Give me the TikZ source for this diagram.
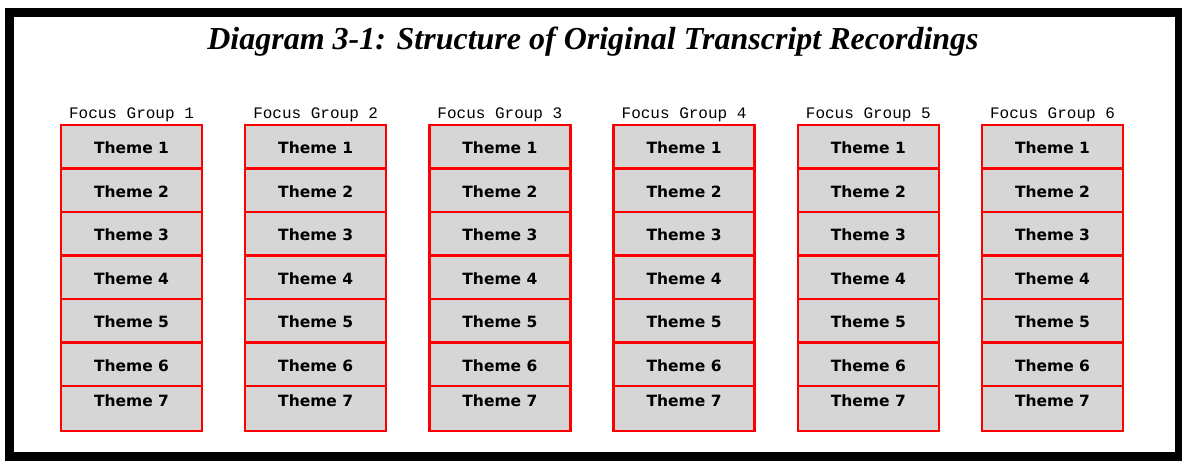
\documentclass[tikz,border=0pt]{standalone}
\usepackage{fontspec}
\setmainfont{Liberation Serif}
\newfontfamily\groupfont{Liberation Mono}
\newfontfamily\themefont{DejaVu Sans}
\definecolor{cellgray}{RGB}{214,214,214}

\begin{document}
\begin{tikzpicture}[x=1pt, y=-1pt,
      cell/.style={draw=red, line width=2.5pt, fill=cellgray, minimum width=141pt, minimum height=43.5pt,
        inner sep=0pt, text height=14pt, text depth=0pt, font=\themefont\bfseries\fontsize{15.5}{18}\selectfont},
      lastcell/.style={cell, minimum height=45pt, text depth=18pt},
      grp/.style={font=\groupfont\fontsize{16}{18}\selectfont, anchor=base, inner sep=0pt},
      ttl/.style={font=\bfseries\itshape\fontsize{32}{36}\selectfont, anchor=base, inner sep=0pt}]
    \useasboundingbox (0,0) rectangle (1182,460);
    \draw[line width=9pt] (9.5,12.5) rectangle (1179.5,456.5);
    \node[ttl] (title) at (593,49) {Diagram 3-1: Structure of Original Transcript Recordings};
    \foreach \g in {1,...,6} {
      \pgfmathsetmacro{\cx}{131.5+184.2*(\g-1)}
      \node[grp] (fg\g) at (\cx,118) {Focus Group \g};
      \foreach \t in {1,...,6} {
        \node[cell] (g\g-t\t) at (\cx,{125+43.5*(\t-0.5)}) {Theme \t};
      }
      \node[lastcell] (g\g-t7) at (\cx,408.5) {Theme 7};
    }
  \end{tikzpicture}
\end{document}
